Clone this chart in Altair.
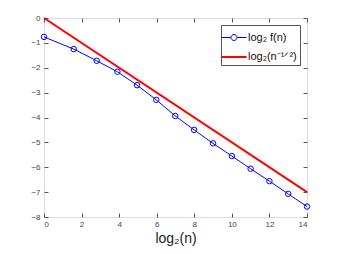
import altair as alt
import pandas as pd

# data
x_blue = [0, 1.585, 2.807, 3.907, 4.954, 5.977, 6.989, 7.994, 8.997, 9.999, 10.999, 12.0, 13.0, 14.0]
y_blue = [-0.76, -1.25, -1.72, -2.16, -2.70, -3.29, -3.94, -4.50, -5.04, -5.55, -6.06, -6.56, -7.07, -7.58]
x_red = [0, 14]
y_red = [0, -7]
names = ["log₂ f(n)", "log₂(n⁻¹ᐟ²)"]
x_ticks = [0, 2, 4, 6, 8, 10, 12, 14]
y_ticks = [-8, -7, -6, -5, -4, -3, -2, -1, 0]

blue = pd.DataFrame({"x": x_blue, "y": y_blue, "s": names[0]})
red = pd.DataFrame({"x": x_red, "y": y_red, "s": names[1]})
df = pd.concat([blue, red], ignore_index=True)

AX = "#555555"
LAB = "#444444"

circle_path = ("M-1.4,0L-0.33,0M0.33,0L1.4,0"
               "M-0.33,0A0.33,0.33 0 1 1 0.33,0A0.33,0.33 0 1 1 -0.33,0")
line_path = "M-1.4,0L1.4,0"
shape_sig = f"datum.value === '{names[0]}' ? '{circle_path}' : '{line_path}'"
sw_sig = f"datum.value === '{names[0]}' ? 1 : 2"

xs = alt.Scale(domain=[0, 14], nice=False)
ys = alt.Scale(domain=[-8, 0], nice=False)

def xaxis(orient, labels):
    return alt.Axis(orient=orient, values=x_ticks, labels=labels, grid=False, domain=False,
                    tickSize=4, offset=-4, tickColor=AX, labelColor=LAB, labelFontSize=8,
                    labelFont="Liberation Sans", labelPadding=3,
                    title="log₂(n)" if labels else None, titleFontSize=14,
                    titleFont="Liberation Sans", titleFontWeight="normal",
                    titleColor="#222222", titlePadding=3)

def yaxis(orient, labels):
    return alt.Axis(orient=orient, values=y_ticks, labels=labels, grid=False, domain=False,
                    tickSize=4, offset=-4, tickColor=AX, labelColor=LAB, labelFontSize=8,
                    labelFont="Liberation Sans", labelPadding=4, title=None)

lines = alt.Chart(df).mark_line().encode(
    x=alt.X("x:Q", scale=xs, axis=xaxis("bottom", True)),
    y=alt.Y("y:Q", scale=ys, axis=yaxis("left", True)),
    color=alt.Color("s:N", scale=alt.Scale(domain=names, range=["#0000FF", "#FF0000"]),
                    legend=alt.Legend(title=None, orient="top-right", offset=7,
                                      symbolSize=324, labelFontSize=11,
                                      labelFont="Liberation Sans", labelColor="#111111",
                                      strokeColor="#555555", fillColor="white",
                                      padding=3, rowPadding=4, labelOffset=4,
                                      symbolType=alt.ExprRef(expr=shape_sig),
                                      symbolStrokeWidth=alt.ExprRef(expr=sw_sig),
                                      symbolFillColor="transparent")),
    strokeWidth=alt.StrokeWidth("s:N", scale=alt.Scale(domain=names, range=[1, 2]), legend=None),
    detail="s:N",
)

pts = alt.Chart(blue).mark_point(filled=False, size=30, color="#0000FF", strokeWidth=1, opacity=1).encode(
    x=alt.X("x:Q", scale=xs, axis=xaxis("top", False)),
    y=alt.Y("y:Q", scale=ys, axis=yaxis("right", False)),
)

chart = alt.layer(lines, pts).resolve_axis(x="independent", y="independent").properties(
    width=263, height=199,
    autosize=alt.AutoSizeParams(type="none"),
    padding={"left": 36, "top": 10, "right": 16, "bottom": 29},
).configure_view(stroke=AX, strokeWidth=1).configure(background="white")

chart.save("out.html", embed_options={"renderer": "svg", "actions": False})
